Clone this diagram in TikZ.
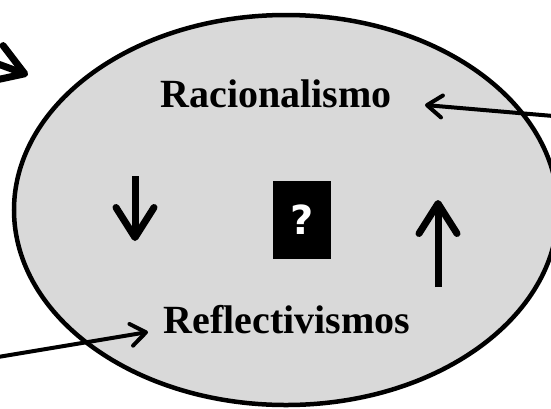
\documentclass[tikz,border=0pt]{standalone}
\usepackage{fontspec}
\setmainfont{Liberation Serif}
\newfontfamily\qfont{DejaVu Sans}
\usetikzlibrary{arrows.meta}
\definecolor{ovalgray}{HTML}{D9D9D9}
\tikzset{
  thinarrow/.style={line width=4pt, -{Straight Barb[length=15pt,width=22pt,round]}},
  thickarrow/.style={line width=7pt, -{Straight Barb[length=30pt,width=38pt,round]}},
  schooltext/.style={font=\fontsize{40}{44}\selectfont\bfseries, anchor=base, inner sep=0pt},
  qbox/.style={fill=black, text=white, minimum width=58pt, minimum height=78pt, inner sep=0pt,
    font=\qfont\fontsize{40}{44}\selectfont\bfseries}
}
\begin{document}
\begin{tikzpicture}[x=1pt,y=-1pt]
            \useasboundingbox (0,0) rectangle (551,408);
            \clip (0,0) rectangle (551,408);

            % Drawing the oval
            \draw [line width=4.5pt, fill=ovalgray] (286,210) ellipse [x radius=272, y radius=195];%

            % Labels inside the oval
            \node [schooltext] (racio) at (276,107) {Racionalismo};%
            \node [schooltext] (reflex) at (287,333) {Reflectivismos};%
            \node [qbox] (quest) at (302,220) {?};%

            % End points of the arrows
            \coordinate (racio tip) at (425,105);%
            \coordinate (racio src) at (565,117);%
            \coordinate (reflex tip) at (148,332);%
            \coordinate (reflex src) at (-20,360);%
            \coordinate (corner tip) at (28,75);%
            \coordinate (corner src) at (-40,50);%
            \coordinate (down top) at (135,176);%
            \coordinate (down tip) at (135,241);%
            \coordinate (up foot) at (438,287);%
            \coordinate (up tip) at (438,200);%

            % Drawing the arrows
            \draw [thinarrow] (racio src) -- (racio tip);%
            \draw [thinarrow] (reflex src) -- (reflex tip);%
            \draw [thickarrow] (corner src) -- (corner tip);%
            \draw [thickarrow] (down top) -- (down tip);%
            \draw [thickarrow] (up foot) -- (up tip);%
\end{tikzpicture}
\end{document}
